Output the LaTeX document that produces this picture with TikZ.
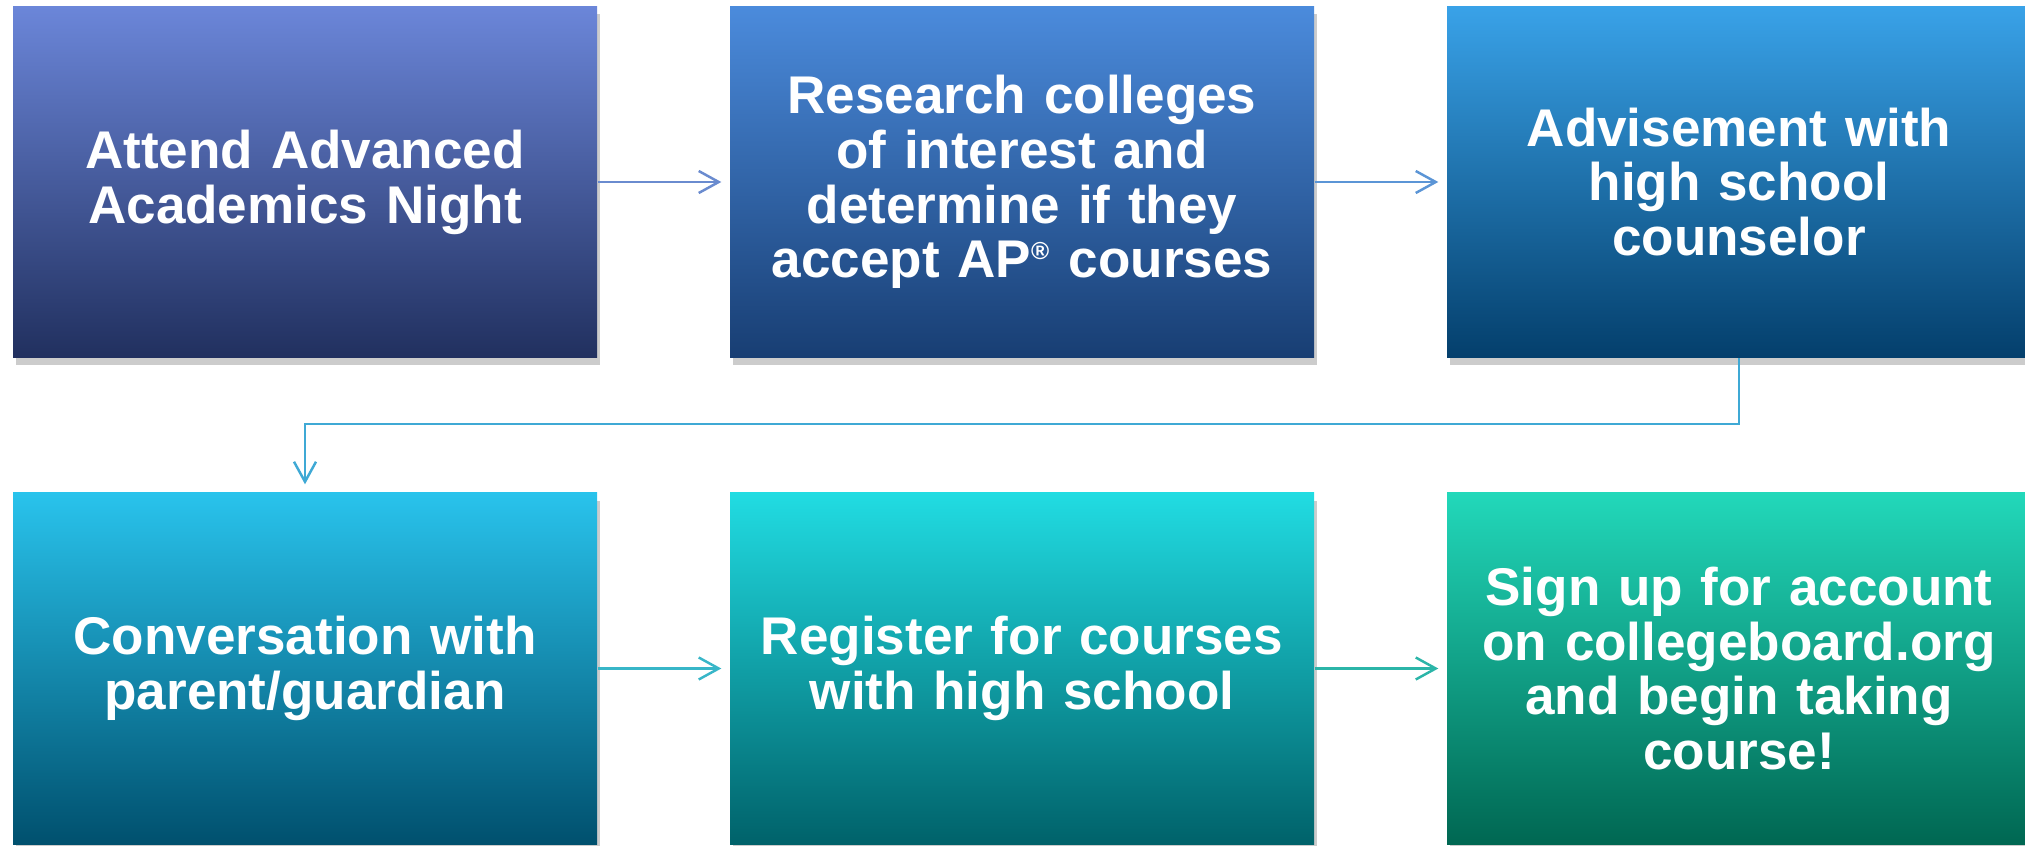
\documentclass[tikz,border=0pt]{standalone}
\usepackage{fontspec}
\setmainfont{Liberation Sans}
\usetikzlibrary{arrows.meta,shadows}

\definecolor{boxAtop}{HTML}{6B86D9}
\definecolor{boxAbot}{HTML}{21305F}
\definecolor{boxBtop}{HTML}{4B8BDC}
\definecolor{boxBbot}{HTML}{183E73}
\definecolor{boxCtop}{HTML}{39A2E8}
\definecolor{boxCbot}{HTML}{043F6C}
\definecolor{boxDtop}{HTML}{29C3EC}
\definecolor{boxDbot}{HTML}{00506E}
\definecolor{boxEtop}{HTML}{21DCE2}
\definecolor{boxEbot}{HTML}{00626A}
\definecolor{boxFtop}{HTML}{22D8BA}
\definecolor{boxFbot}{HTML}{006752}
\definecolor{lineA}{HTML}{6A8BCF}
\definecolor{lineB}{HTML}{5B95D6}
\definecolor{lineC}{HTML}{3FA9D5}
\definecolor{lineD}{HTML}{38B6C8}
\definecolor{lineE}{HTML}{2BB5A8}

\begin{document}
\begin{tikzpicture}[
  stepbox/.style={rectangle, minimum width=5.84cm, minimum height=3.51cm,
    text width=5.6cm, align=center, text=white,
    font=\fontsize{15.1}{15.6}\selectfont\bfseries,
    drop shadow={shadow xshift=0.03cm, shadow yshift=-0.08cm, opacity=0.4}},
  flow/.style={line width=0.7pt, -{Straight Barb[length=0.2cm, width=0.22cm]},
    shorten >=0.08cm}
]

\clip (0,0) rectangle (20.25,-8.46);
\fill[white] (0,0) rectangle (20.25,-8.46);

\node[stepbox, top color=boxAtop, bottom color=boxAbot] (attend) at (3.05,-1.82) {Attend Advanced\\Academics Night};
\node[stepbox, top color=boxBtop, bottom color=boxBbot] (research) at (10.22,-1.82) {Research colleges\\of interest and\\determine if they\\accept AP\textsuperscript{\scriptsize®} courses};
\node[stepbox, top color=boxCtop, bottom color=boxCbot] (advise) at (17.39,-1.82) {Advisement with\\high school\\counselor};

\node[stepbox, top color=boxDtop, bottom color=boxDbot] (talk) at (3.05,-6.685) {Conversation with\\parent/guardian};
\node[stepbox, top color=boxEtop, bottom color=boxEbot] (register) at (10.22,-6.685) {Register for courses\\with high school};
\node[stepbox, top color=boxFtop, bottom color=boxFbot] (signup) at (17.39,-6.685) {Sign up for account\\on collegeboard.org\\and begin taking\\course!};

\draw[flow, lineA] (attend) -- (research);
\draw[flow, lineB] (research) -- (advise);
\draw[flow, lineC] (advise.south) -- ++(0,-0.66) -| (talk.north);
\draw[flow, lineD] (talk) -- (register);
\draw[flow, lineE] (register) -- (signup);

\end{tikzpicture}
\end{document}
